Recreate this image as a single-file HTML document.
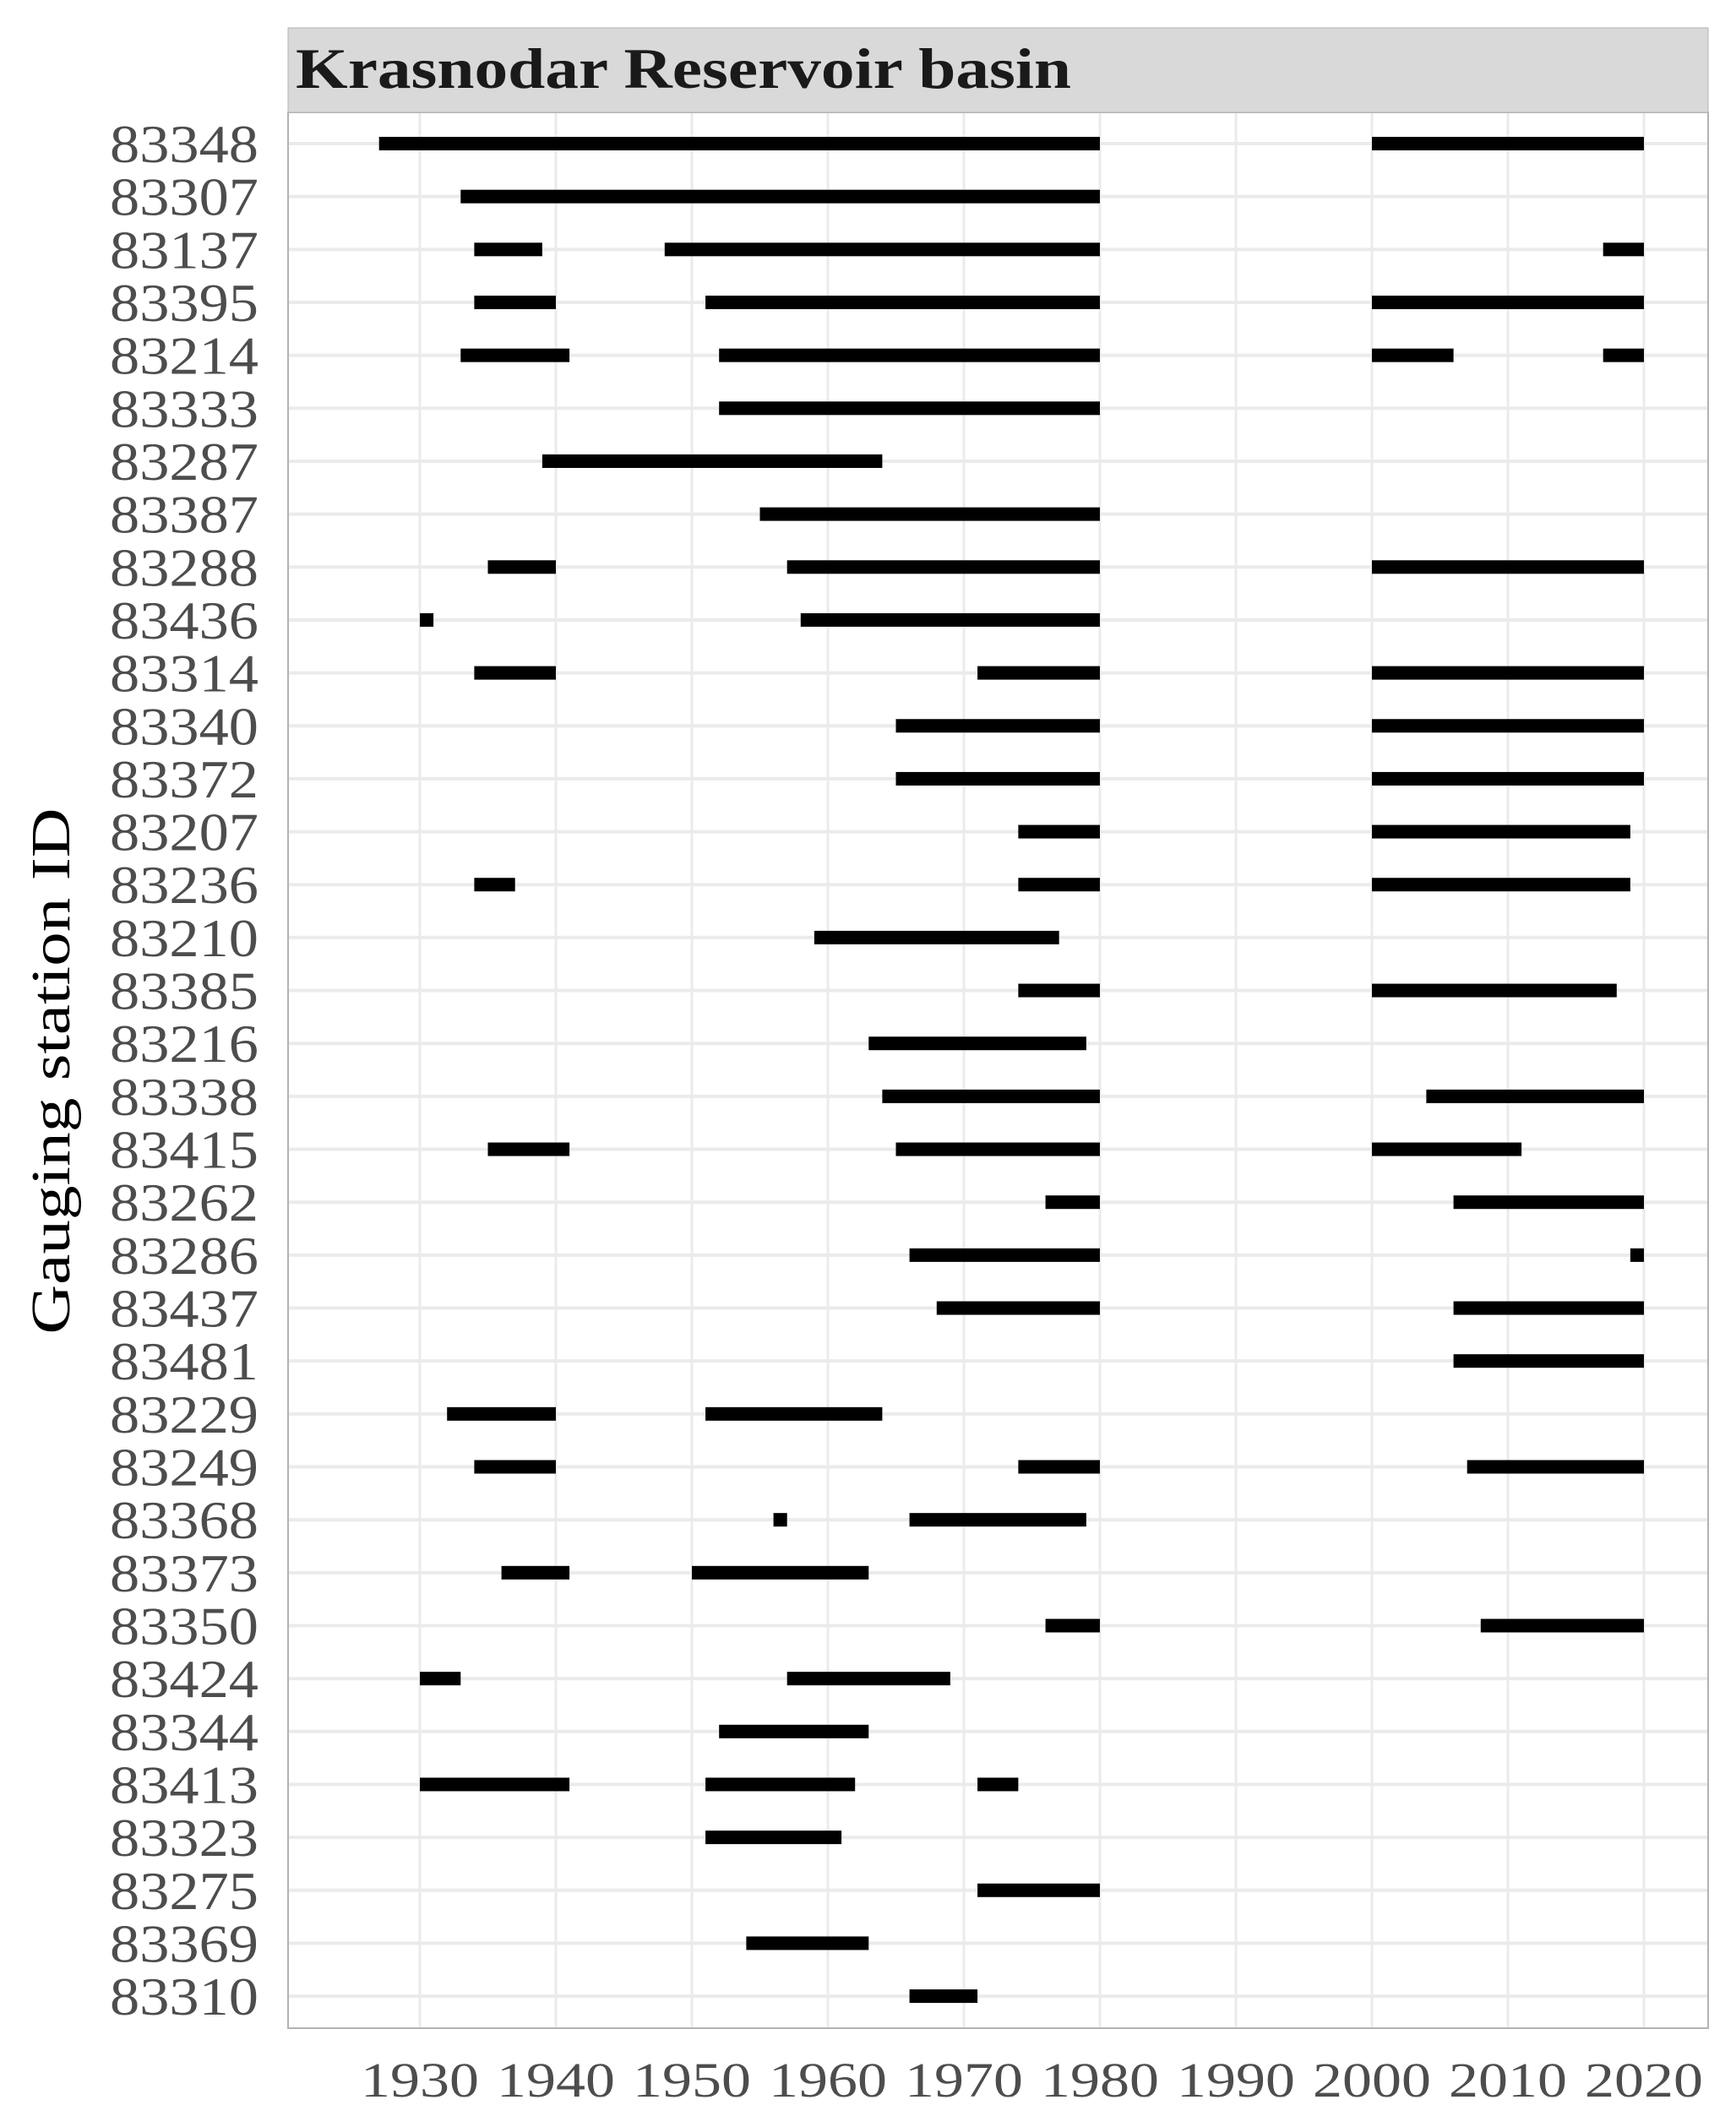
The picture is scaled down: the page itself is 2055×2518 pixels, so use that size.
<!DOCTYPE html>
<html><head><meta charset="utf-8"><style>
html,body{margin:0;padding:0;background:#fff;}
svg{display:block;font-family:"Liberation Serif",serif;}
</style></head><body>
<svg id="chart" width="2055" height="2518" viewBox="0 0 2055 2518">
<rect x="0" y="0" width="2055" height="2518" fill="#fff"/>
<g id="grid"></g>
<g id="bars"></g>
<rect x="341" y="133" width="1681" height="2268" fill="none" stroke="#b3b3b3" stroke-width="2"/>
<rect x="341" y="33" width="1681" height="100" fill="#d9d9d9" stroke="#b3b3b3" stroke-width="1"/>
<text x="350" y="104" font-size="68" font-weight="bold" fill="#1a1a1a" textLength="918" lengthAdjust="spacingAndGlyphs">Krasnodar Reservoir basin</text>
<g id="ylabels"></g>
<g id="xlabels"></g>
<text transform="translate(82,1268) rotate(-90)" text-anchor="middle" font-size="66" fill="#000" textLength="623" lengthAdjust="spacingAndGlyphs">Gauging station ID</text>
</svg>
<script>
const stations = ["83348","83307","83137","83395","83214","83333","83287","83387","83288","83436","83314","83340","83372","83207","83236","83210","83385","83216","83338","83415","83262","83286","83437","83481","83229","83249","83368","83373","83350","83424","83344","83413","83323","83275","83369","83310"];
const periods = [
 [[1927,1980],[2000,2020]],
 [[1933,1980]],
 [[1934,1939],[1948,1980],[2017,2020]],
 [[1934,1940],[1951,1980],[2000,2020]],
 [[1933,1941],[1952,1980],[2000,2006],[2017,2020]],
 [[1952,1980]],
 [[1939,1964]],
 [[1955,1980]],
 [[1935,1940],[1957,1980],[2000,2020]],
 [[1930,1931],[1958,1980]],
 [[1934,1940],[1971,1980],[2000,2020]],
 [[1965,1980],[2000,2020]],
 [[1965,1980],[2000,2020]],
 [[1974,1980],[2000,2019]],
 [[1934,1937],[1974,1980],[2000,2019]],
 [[1959,1977]],
 [[1974,1980],[2000,2018]],
 [[1963,1979]],
 [[1964,1980],[2004,2020]],
 [[1935,1941],[1965,1980],[2000,2011]],
 [[1976,1980],[2006,2020]],
 [[1966,1980],[2019,2020]],
 [[1968,1980],[2006,2020]],
 [[2006,2020]],
 [[1932,1940],[1951,1964]],
 [[1934,1940],[1974,1980],[2007,2020]],
 [[1956,1957],[1966,1979]],
 [[1936,1941],[1950,1963]],
 [[1976,1980],[2008,2020]],
 [[1930,1933],[1957,1969]],
 [[1952,1963]],
 [[1930,1941],[1951,1962],[1971,1974]],
 [[1951,1961]],
 [[1971,1980]],
 [[1954,1963]],
 [[1966,1971]]
];
const xTicks = [1930,1940,1950,1960,1970,1980,1990,2000,2010,2020];

const NS = "http://www.w3.org/2000/svg";
const xScale = y => 497 + (y - 1930) * 16.1;
const yScale = i => 170 + i * 62.66;
const L = 341, R = 2022, T = 133, B = 2401;
const grid = document.getElementById('grid');
const bars = document.getElementById('bars');
const yl = document.getElementById('ylabels');
const xl = document.getElementById('xlabels');

xTicks.forEach(t => {
  const l = document.createElementNS(NS, 'line');
  l.setAttribute('x1', xScale(t)); l.setAttribute('x2', xScale(t));
  l.setAttribute('y1', T); l.setAttribute('y2', B);
  l.setAttribute('stroke', '#ebebeb'); l.setAttribute('stroke-width', '3');
  
  
  grid.appendChild(l);
  const tx = document.createElementNS(NS, 'text');
  tx.setAttribute('x', xScale(t)); tx.setAttribute('y', 2482);
  tx.setAttribute('text-anchor', 'middle'); tx.setAttribute('font-size', '58');
  tx.setAttribute('fill', '#4d4d4d');
  tx.setAttribute('textLength', '140'); tx.setAttribute('lengthAdjust', 'spacingAndGlyphs');
  tx.textContent = t;
  
  
  xl.appendChild(tx);
});

stations.forEach((s, i) => {
  const y = yScale(i);
  const l = document.createElementNS(NS, 'line');
  l.setAttribute('x1', L); l.setAttribute('x2', R);
  l.setAttribute('y1', y); l.setAttribute('y2', y);
  l.setAttribute('stroke', '#ebebeb'); l.setAttribute('stroke-width', '4');
  
  
  grid.appendChild(l);
  const tx = document.createElementNS(NS, 'text');
  tx.setAttribute('x', 306); tx.setAttribute('y', y + 22);
  tx.setAttribute('text-anchor', 'end'); tx.setAttribute('font-size', '64');
  tx.setAttribute('fill', '#4d4d4d');
  tx.setAttribute('textLength', '176'); tx.setAttribute('lengthAdjust', 'spacingAndGlyphs');
  tx.textContent = s;
  
  
  yl.appendChild(tx);
  periods[i].forEach(p => {
    const r = document.createElementNS(NS, 'rect');
    r.setAttribute('x', xScale(p[0]));
    r.setAttribute('width', xScale(p[1]) - xScale(p[0]));
    r.setAttribute('y', y - 8); r.setAttribute('height', 16);
    r.setAttribute('fill', '#000');
    
    
    bars.appendChild(r);
  });
});
</script>
</body></html>
